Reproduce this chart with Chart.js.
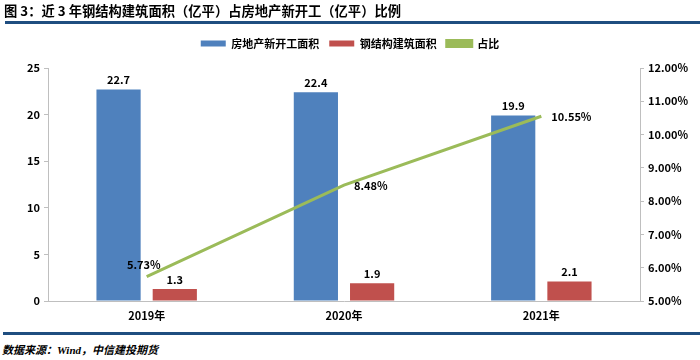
<!DOCTYPE html>
<html><head><meta charset="utf-8">
<script src="https://cdn.jsdelivr.net/npm/chart.js@4.4.1/dist/chart.umd.min.js"></script>
<style>
html,body{margin:0;padding:0;background:#fff;width:700px;height:360px;overflow:hidden;font-family:"Noto Sans CJK SC",sans-serif;}
#title{position:absolute;left:4px;top:1px;font-size:13.3px;font-weight:bold;color:#000;}
#line1{position:absolute;left:5px;top:21px;width:695px;height:3px;background:#1f4e80;}
#line2{position:absolute;left:3px;top:332px;width:697px;height:3px;background:#1f4e80;}
#src{position:absolute;left:2px;top:341px;font-size:11px;font-weight:bold;font-style:italic;color:#000;}
#wrap{position:absolute;left:0;top:0;width:700px;height:330px;}
</style></head><body>
<div id="wrap"><canvas id="c" width="700" height="330"></canvas></div>
<div id="title">图 3：近 3 年钢结构建筑面积（亿平）占房地产新开工（亿平）比例</div>
<div id="line1"></div>
<div id="line2"></div>
<div id="src">数据来源：<span style="font-family:'Liberation Serif',serif">Wind</span>，中信建投期货</div>
<script>
const categories = ["2019年","2020年","2021年"];
const newStartArea = [22.7, 22.4, 19.9];
const steelArea = [1.3, 1.9, 2.1];
const ratio = [5.73, 8.48, 10.55];
const leftTicks = [0,5,10,15,20,25];
const rightTicks = [5,6,7,8,9,10,11,12];

const FONT = '"Noto Sans CJK SC", sans-serif';
const legendSpace = {
  id:'legendSpace',
  beforeInit(chart){
    const lg = chart.legend;
    if(lg){ const orig = lg.fit; lg.fit = function(){ orig.call(this); this.height += 9; }; }
  }
};
const labelPlugin = {
  id:'valLabels',
  afterDatasetsDraw(chart){
    const ctx = chart.ctx;
    ctx.save();
    ctx.font = 'bold 11px ' + FONT;
    ctx.fillStyle = '#000';
    ctx.textBaseline = 'bottom';
    [0,1].forEach(di=>{
      const meta = chart.getDatasetMeta(di);
      meta.data.forEach((el,i)=>{
        ctx.textAlign='center';
        ctx.fillText(chart.data.datasets[di].data[i].toFixed(1), el.x, el.y-4);
      });
    });
    const meta = chart.getDatasetMeta(2);
    meta.data.forEach((el,i)=>{
      const t = ratio[i].toFixed(2)+'%';
      ctx.textBaseline='middle';
      if(i===0){ ctx.textAlign='right'; ctx.fillText(t, el.x+14, el.y-12); }
      else { ctx.textAlign='left'; ctx.fillText(t, el.x+10, el.y+1); }
    });
    ctx.restore();
  }
};

new Chart(document.getElementById('c'),{
  data:{
    labels:categories,
    datasets:[
      {type:'bar',label:'房地产新开工面积',data:newStartArea,backgroundColor:'#4F81BD',yAxisID:'y',categoryPercentage:0.57,barPercentage:0.786,order:2},
      {type:'bar',label:'钢结构建筑面积',data:steelArea,backgroundColor:'#C0504D',yAxisID:'y',categoryPercentage:0.57,barPercentage:0.786,order:2},
      {type:'line',label:'占比',data:ratio,borderColor:'#9BBB59',backgroundColor:'#9BBB59',borderWidth:3,pointRadius:0,yAxisID:'y1',order:1}
    ]
  },
  options:{
    responsive:false,animation:false,
    layout:{padding:{top:28,left:0,right:0,bottom:0}},
    plugins:{
      legend:{position:'top',labels:{boxWidth:25,boxHeight:6,padding:10,color:'#000',
        sort:(a,b)=>a.datasetIndex-b.datasetIndex,
        font:{family:FONT,size:11,weight:'bold'}}},
      tooltip:{enabled:false}
    },
    scales:{
      x:{grid:{display:false,drawTicks:false},border:{color:'#bfbfbf'},ticks:{color:'#000',padding:8,font:{family:FONT,size:11,weight:'bold'}},
         afterFit(s){s.height=29;}},
      y:{position:'left',min:0,max:25,afterBuildTicks(s){s.ticks=leftTicks.map(v=>({value:v}));},
         grid:{display:true,drawOnChartArea:false,tickLength:4,color:'#bfbfbf'},border:{color:'#bfbfbf'},
         ticks:{color:'#000',padding:4,font:{family:FONT,size:11,weight:'bold'}},afterFit(s){s.width=48;}},
      y1:{position:'right',min:5,max:12,afterBuildTicks(s){s.ticks=rightTicks.map(v=>({value:v}));},
         grid:{display:true,drawOnChartArea:false,tickLength:4,color:'#bfbfbf'},border:{color:'#bfbfbf'},
         ticks:{color:'#000',padding:4,font:{family:FONT,size:11,weight:'bold'},callback:v=>v.toFixed(2)+'%'},afterFit(s){s.width=60;}}
    }
  },
  plugins:[legendSpace,labelPlugin]
});
</script>
</body></html>
